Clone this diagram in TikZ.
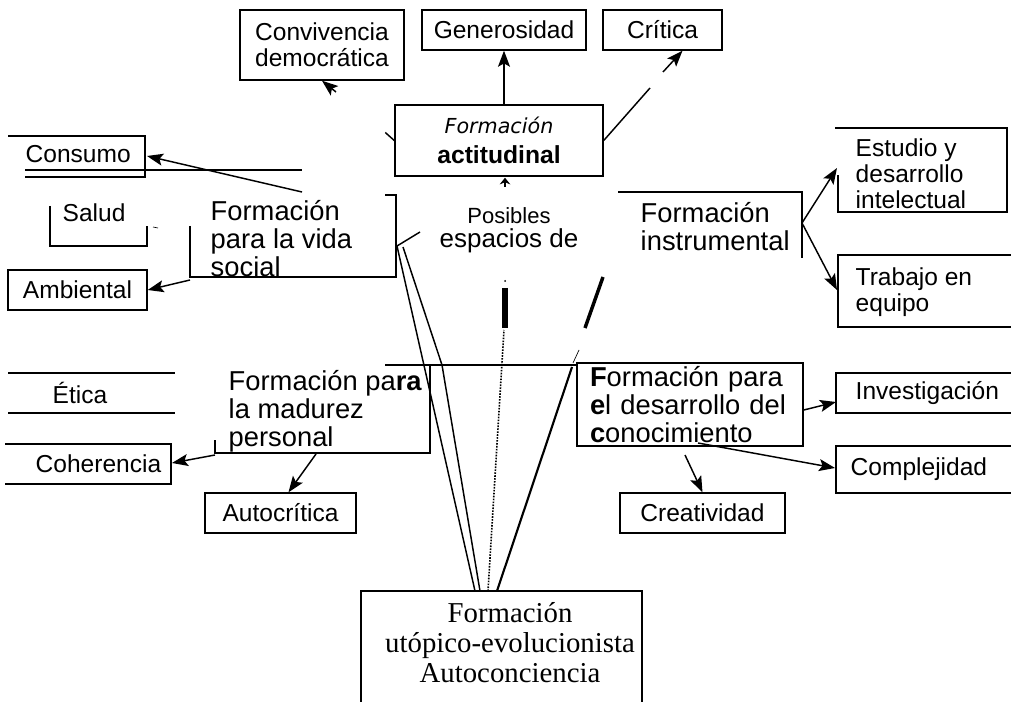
\documentclass[tikz,border=0pt]{standalone}
\usepackage{fontspec}
\setmainfont{Liberation Sans}
\newfontfamily\timesf{Liberation Serif}
\newfontfamily\verdf{DejaVu Sans}
\usetikzlibrary{arrows.meta}

\newcommand\leaffont{\fontsize{18.4}{19.5}\selectfont}
\newcommand\formfont{\fontsize{20.5}{21}\selectfont}

\begin{document}
\begin{tikzpicture}[x=0.75pt,y=-0.75pt,line width=1.1pt,
  box/.style 2 args={draw,inner sep=0pt,minimum width=#1*0.75pt,minimum height=#2*0.75pt,align=center},
  leaf/.style={font=\leaffont},
  form/.style={font=\formfont,align=left,anchor=west,inner sep=0pt},
  txt/.style={font=\leaffont,align=left,anchor=west,inner sep=0pt},
  arr/.style={-{Stealth[length=12pt,width=9pt,inset=2.5pt]}}]
\useasboundingbox (0,0) rectangle (1011,702);

% top row
\node[box={164}{70},leaf] (conv) at (322,45) {Convivencia\\democrática};
\node[box={164}{40},leaf] (gen) at (504,30) {Generosidad};
\node[box={119}{40},leaf] (crit) at (662.5,30) {Crítica};
\node[box={208}{71},font=\fontsize{18.5}{22}\selectfont] (acti) at (499,140.5)
  {{\verdf\itshape\fontsize{15.5}{22}\selectfont Formación}\\{\bfseries actitudinal}};

% left side
\draw (8,136) -- (145,136) -- (145,177) -- (25,177);
\draw (25,170) -- (302,170);
\node[txt] (cons) at (25,154) {Consumo};
\draw (50,206) -- (50,246) -- (147,246) -- (147,226);
\draw[line width=0.5pt] (153,227) -- (158,228);
\node[txt] (sal) at (62,213) {Salud};
\draw (190,226) -- (190,277) -- (396,277) -- (396,195) -- (385,195);
\node[form] (vida) at (210,239) {Formación\\para la vida\\social};
\node[box={139}{40},leaf] (amb) at (77.5,290) {Ambiental};

% right side
\draw (618,192) -- (802,192) -- (802,258);
\node[form] (inst) at (640,227) {Formación\\instrumental};
\draw (835,128) -- (1007,128) -- (1007,212) -- (838,212) -- (838,175);
\node[txt] (estu) at (855,174) {Estudio y\\desarrollo\\intelectual};
\draw (1011,255) -- (838,255) -- (838,327) -- (1011,327);
\node[txt] (trab) at (855,292) {Trabajo en\\equipo};

% centre
\node[align=center,inner sep=0pt,font=\fontsize{19.5}{18}\selectfont] (pos) at (509,230)
  {{\fontsize{16.5}{18}\selectfont Posibles}\\espacios de};

% lower left
\draw (8,373) -- (175,373);
\draw (8,413) -- (175,413);
\node[txt] (eti) at (52,393) {Ética};
\draw (5,444) -- (171,444) -- (171,484) -- (5,484);
\node[txt] (coh) at (35,464) {Coherencia};
\draw (385,365) -- (578,365);
\draw (430,365) -- (430,453) -- (215,453) -- (215,440);
\node[form] (madu) at (228,411) {Formación pa\textbf{ra}\\la madurez\\personal};
\node[box={151}{40},leaf] (autoc) at (280.5,513) {Autocrítica};

% lower right
\node[box={226}{83},font=\formfont,align=left,text width=150pt] (conoc) at (690,404.5)
  {\textbf{F}ormación para\\\textbf{e}l desarrollo del\\\textbf{c}onocimiento};
\draw (1011,373) -- (836,373) -- (836,413) -- (1011,413);
\node[txt] (inv) at (855,393) {Investigación};
\draw (1011,446) -- (836,446) -- (836,493) -- (1011,493);
\node[txt] (comp) at (850,469) {Complejidad};
\node[box={165}{40},leaf] (creat) at (702.5,513) {Creatividad};

% bottom
\draw (361,702) -- (361,591) -- (642,591) -- (642,702);
\node[align=center,inner sep=0pt,font=\timesf\fontsize{21.6}{22.5}\selectfont] (utop) at (510,643)
  {Formación\\utópico-evolucionista\\Autoconciencia};

% connector ends
\coordinate (conv-g) at (336,92);
\coordinate (crit-g1) at (650,88);
\coordinate (crit-g2) at (663,72);
\coordinate (vida-n) at (302,192);
\coordinate (cons-e) at (147,156);
\coordinate (vida-sw) at (190,280);
\coordinate (inst-e) at (802,223);
\coordinate (estu-w) at (837,168);
\coordinate (trab-w) at (837,290);
\coordinate (madu-sw) at (215,455);
\coordinate (madu-s) at (316,454);
\coordinate (coh-e) at (172,463);
\coordinate (inv-w) at (836,402);
\coordinate (conoc-s1) at (698,443);
\coordinate (conoc-s2) at (685,455);
\coordinate (comp-w) at (835,468);
\coordinate (utop-a) at (475,591);
\coordinate (utop-b) at (480,591);
\coordinate (utop-c) at (488,591);
\coordinate (utop-d) at (497,591);
\coordinate (vida-c1) at (397,246);
\coordinate (vida-c2) at (403,247);

% connectors
\draw[arr] (acti.north -| gen.south) -- (gen.south);
\draw[arr] (conv-g) -- (conv.south);
\draw (acti.west) -- ++(-9,-8);
\draw (acti.east) -- (crit-g1);
\draw[arr] (crit-g2) -- ([xshift=15pt]crit.south);
\draw[-{Stealth[length=5pt,width=8pt]}] ([shift={(6,10)}]acti.south) -- ([shift={(6,1)}]acti.south);
\draw[arr] (vida-n) -- (cons-e);
\draw[arr] (vida-sw) -- (amb.east);
\draw[arr] (inst-e) -- (estu-w);
\draw[arr] (inst-e) -- (trab-w);
\draw[arr] (madu-sw) -- (coh-e);
\draw[arr] (madu-s) -- ([xshift=6pt]autoc.north);
\draw[arr] (conoc.east |- 0,410) -- (inv-w);
\draw[arr] (conoc-s1) -- (comp-w);
\draw[arr] (conoc-s2) -- (creat.north);

% funnel
\draw (utop-a) -- (vida-c1);
\draw (utop-b) -- (442,365) -- (vida-c2);
\draw (vida-c1) -- ++(23,-14);
\draw[densely dotted,line width=1.2pt] (utop-c) -- (504,330);
\draw[line width=4pt] (505,288) -- (505,328);
\fill (505,281) circle (1);
\draw[line width=1.6pt] (utop-d) -- (572,367);
\draw[line width=0.5pt] (573,363) -- (579,350);
\draw[line width=2.6pt] (585,328) -- (603,277);
\end{tikzpicture}
\end{document}
